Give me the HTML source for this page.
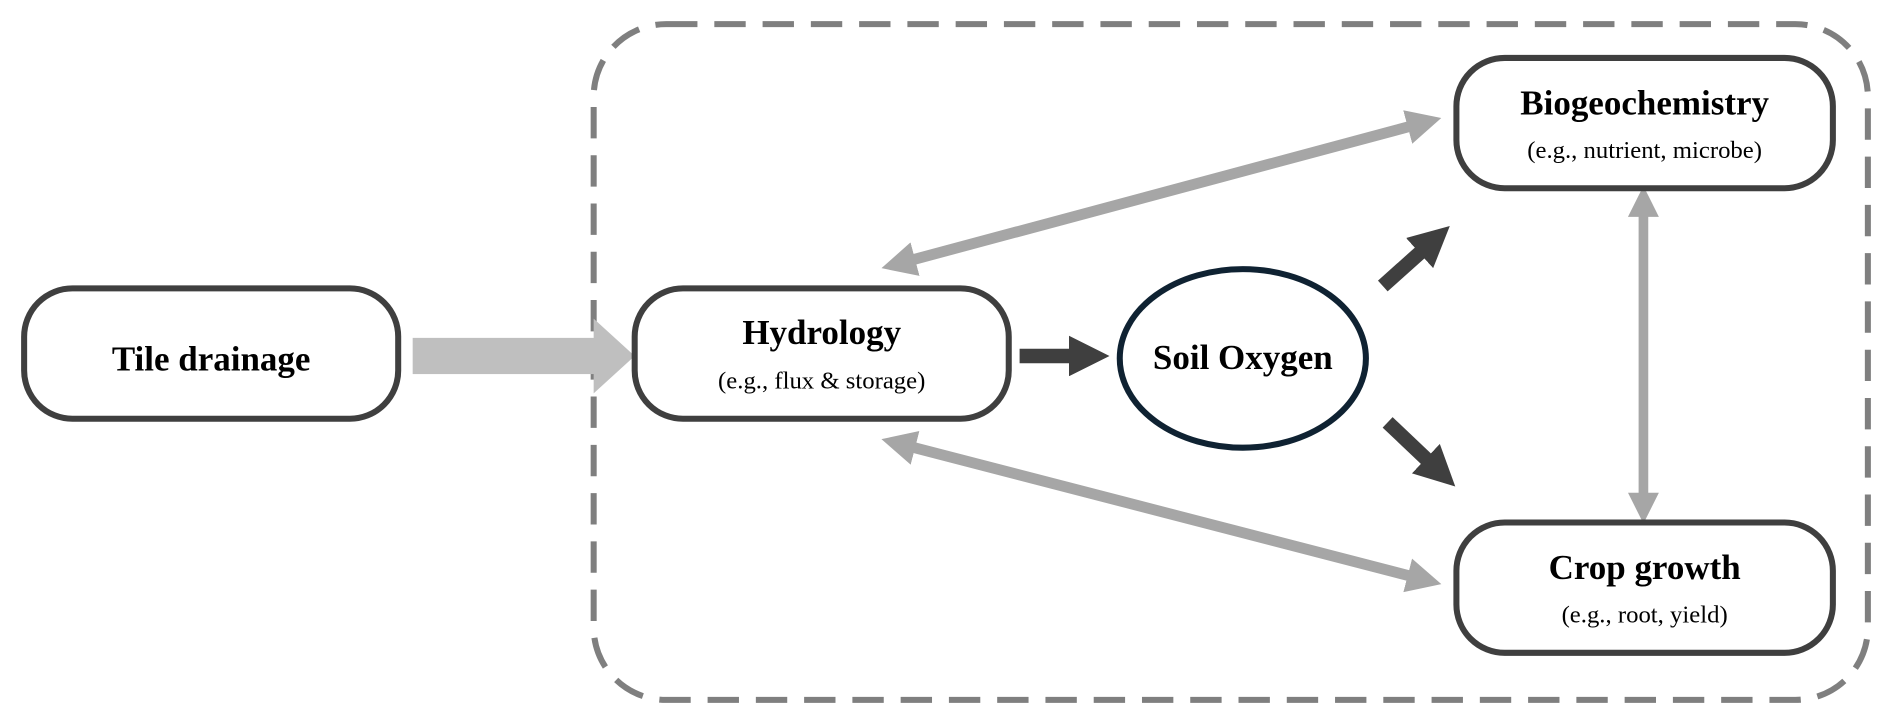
<!DOCTYPE html>
<html><head><style>html,body{margin:0;padding:0;background:#fff;}svg{display:block}</style></head>
<body>
<svg width="1892" height="721" viewBox="0 0 1568 597.5" preserveAspectRatio="none" xmlns="http://www.w3.org/2000/svg" font-family="Liberation Serif, serif">
<defs>
<marker id="gh" viewBox="0 0 10 10" refX="3" refY="5" markerWidth="3.2" markerHeight="3.2" orient="auto-start-reverse"><path d="M0,0 L10,5 L0,10 Z" fill="#a6a6a6"/></marker>
<marker id="dh" viewBox="0 0 10 10" refX="3" refY="5" markerWidth="2.8" markerHeight="2.8" orient="auto"><path d="M0,0 L10,5 L0,10 Z" fill="#3f3f3f"/></marker>
</defs>
<rect x="492" y="20" width="1056" height="560" rx="60" fill="none" stroke="#7f7f7f" stroke-width="5" stroke-dasharray="26,14"/>
<rect x="342" y="280" width="152" height="30" fill="#bfbfbf"/>
<path d="M492,264 L526,295 L492,326 Z" fill="#bfbfbf"/>
<line x1="750" y1="217" x2="1175" y2="103" stroke="#a6a6a6" stroke-width="9" marker-start="url(#gh)" marker-end="url(#gh)"/>
<line x1="750" y1="369" x2="1175" y2="479" stroke="#a6a6a6" stroke-width="9" marker-start="url(#gh)" marker-end="url(#gh)"/>
<line x1="1362" y1="172" x2="1362" y2="416" stroke="#a6a6a6" stroke-width="8" marker-start="url(#gh)" marker-end="url(#gh)"/>
<line x1="845" y1="295" x2="896" y2="295" stroke="#3f3f3f" stroke-width="12" marker-end="url(#dh)"/>
<line x1="1146" y1="237" x2="1184" y2="203" stroke="#3f3f3f" stroke-width="12" marker-end="url(#dh)"/>
<line x1="1150" y1="350" x2="1189" y2="387" stroke="#3f3f3f" stroke-width="12" marker-end="url(#dh)"/>
<g fill="#fff" stroke="#3f3f3f" stroke-width="5">
<rect x="20" y="239" width="310" height="108" rx="40"/>
<rect x="526" y="239" width="310" height="108" rx="40"/>
<rect x="1207" y="48" width="312" height="108" rx="40"/>
<rect x="1207" y="433" width="312" height="108" rx="40"/>
</g>
<ellipse cx="1030" cy="297" rx="102" ry="74" fill="#fff" stroke="#0f2232" stroke-width="5"/>
<g font-weight="bold" text-anchor="middle" fill="#000" font-size="29">
<text x="175" y="307">Tile drainage</text>
<text x="681" y="285">Hydrology</text>
<text x="1030" y="306">Soil Oxygen</text>
<text x="1363" y="95">Biogeochemistry</text>
<text x="1363" y="480">Crop growth</text>
</g>
<g text-anchor="middle" fill="#000" font-size="20.5">
<text x="681" y="322">(e.g., flux &amp; storage)</text>
<text x="1363" y="131">(e.g., nutrient, microbe)</text>
<text x="1363" y="516">(e.g., root, yield)</text>
</g>
</svg>
</body></html>
